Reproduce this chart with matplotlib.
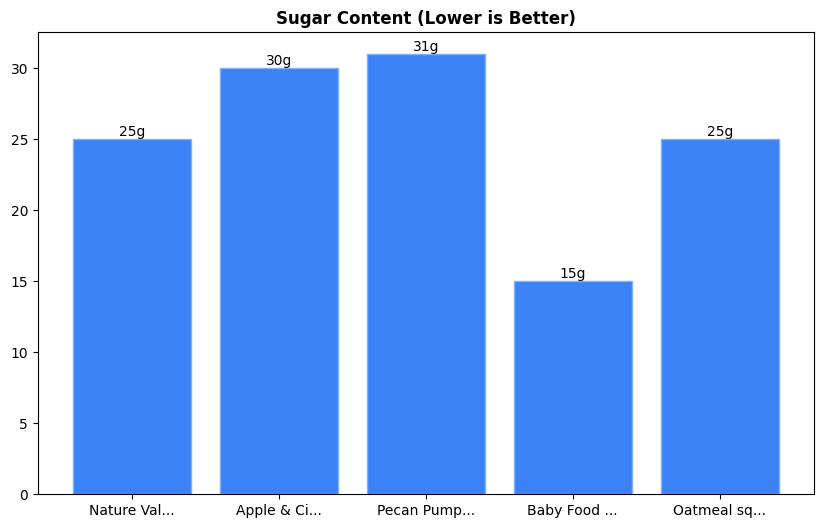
import matplotlib.pyplot as plt

# product names (already truncated on the chart) and sugar per serving
products = ["Nature Val...", "Apple & Ci...", "Pecan Pump...", "Baby Food ...", "Oatmeal sq..."]
sugar = [25, 30, 31, 15, 25]

fig, ax = plt.subplots(figsize=(8.22, 5.28), dpi=100)
fig.subplots_adjust(left=0.046, right=0.99, top=0.939, bottom=0.064)

bars = ax.bar(products, sugar, color="#3b82f6", edgecolor="#7fb0f8", linewidth=1)
for b, v in zip(bars, sugar):
    ax.text(b.get_x() + b.get_width() / 2, v, f"{v}g", ha="center", va="bottom", fontsize=10)

ax.set_title("Sugar Content (Lower is Better)", fontweight="bold", fontsize=12)

plt.savefig("out.png")
